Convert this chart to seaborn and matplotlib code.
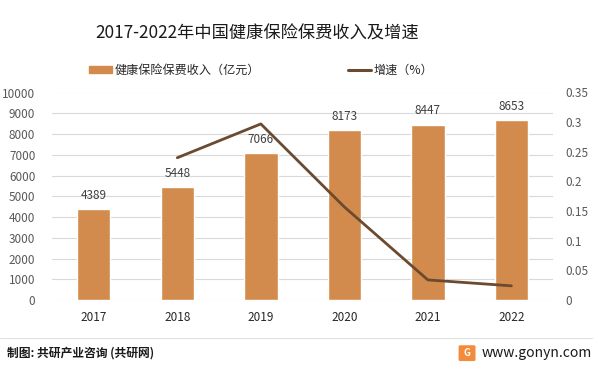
import numpy as np
import matplotlib
matplotlib.use("Agg")
import matplotlib.pyplot as plt
import matplotlib.patches as mpatches
from matplotlib.lines import Line2D
import seaborn as sns

sns.set_theme(style="white")
plt.rcParams['font.family'] = ['Noto Sans CJK SC', 'DejaVu Sans']

years = ['2017', '2018', '2019', '2020', '2021', '2022']
premium = [4389, 5448, 7066, 8173, 8447, 8653]
growth = [np.nan, 0.24, 0.297, 0.157, 0.034, 0.024]
left_ticks = list(range(0, 10001, 1000))
right_ticks = [0, 0.05, 0.1, 0.15, 0.2, 0.25, 0.3, 0.35]
right_labels = ['0', '0.05', '0.1', '0.15', '0.2', '0.25', '0.3', '0.35']

bar_color = '#D38B4D'
line_color = '#6B4A2F'
tick_color = '#595959'

fig = plt.figure(figsize=(5.98, 3.7), dpi=100)
ax = fig.add_axes([0.087, 0.189, 0.838, 0.561])

sns.barplot(x=years, y=premium, color=bar_color, width=0.4, saturation=1, ax=ax)
ax.set_ylim(0, 10000)
ax.set_yticks(left_ticks)
ax.set_yticklabels([str(t) for t in left_ticks])
ax.set_xlim(-0.5, len(years) - 0.5)
ax.yaxis.grid(True, color='#D9D9D9', linewidth=0.8)
ax.set_axisbelow(True)
for s in ax.spines.values():
    s.set_visible(False)
ax.tick_params(axis='y', colors=tick_color, labelsize=8.5, length=0, pad=12)
ax.tick_params(axis='x', colors='#262626', labelsize=8.5, length=0, pad=8)
ax.set_xlabel('')
ax.set_ylabel('')

for i, v in enumerate(premium):
    ax.text(i, v + 350, str(v), ha='center', va='bottom', fontsize=8.5, color='#404040')

ax2 = ax.twinx()
sns.lineplot(x=np.arange(len(years)), y=growth, color=line_color, linewidth=2.0, ax=ax2)
ax2.set_ylim(0, 0.35)
ax2.set_yticks(right_ticks)
ax2.set_yticklabels(right_labels)
ax2.tick_params(axis='y', colors=tick_color, labelsize=8.5, length=0, pad=9)
for s in ax2.spines.values():
    s.set_visible(False)
ax2.set_ylabel('')

fig.text(0.43, 0.91, '2017-2022年中国健康保险保费收入及增速', ha='center', va='center',
         fontsize=12.4, color='#1a1a1a')

handles = [mpatches.Patch(color=bar_color), Line2D([0], [0], color=line_color, linewidth=2.2)]
fig.legend(handles, ['健康保险保费收入（亿元）', '增速（%）'], loc='center',
           bbox_to_anchor=(0.437, 0.81), ncol=2, frameon=False, fontsize=8.7,
           handlelength=1.9, handleheight=0.6, handletextpad=0.2, columnspacing=7.3)

fig.add_artist(Line2D([0.0, 0.99], [0.086, 0.086], color='#E0E0E0', linewidth=0.8,
                      transform=fig.transFigure))
fig.text(0.012, 0.045, '制图: 共研产业咨询 (共研网)', ha='left', va='center',
         fontsize=8.5, color='#1a1a1a', fontweight='bold')
fig.add_artist(mpatches.FancyBboxPatch((0.770, 0.028), 0.022, 0.035,
                                       boxstyle='round,pad=0.002', color='#F28B3C',
                                       transform=fig.transFigure))
fig.text(0.781, 0.046, 'G', ha='center', va='center', fontsize=7, color='white',
         fontweight='bold')
fig.text(0.99, 0.045, 'www.gonyn.com', ha='right', va='center', fontsize=10, color='#1a1a1a')

fig.savefig('out.png', dpi=100, facecolor='white')
